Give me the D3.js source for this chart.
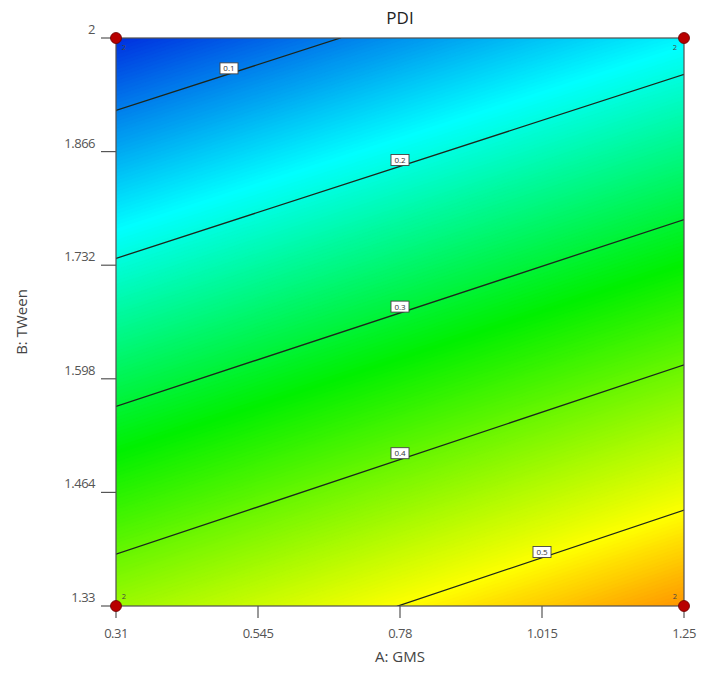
<!DOCTYPE html>
<html><head><meta charset="utf-8">
<script src="https://cdn.jsdelivr.net/npm/d3@7"></script>
<style>
body{margin:0;background:#fff}
svg{display:block}
text{font-family:"Open Sans","DejaVu Sans",sans-serif}
</style>
</head><body>
<svg id="chart" width="703" height="691"></svg>
<script>
// Design levels of the two factors
const gmsLevels = [0.31, 1.25];     // A: GMS (low, high)
const tweenLevels = [1.33, 2];      // B: TWeen (low, high)
// PDI at the four design corners (2FI surface)
const pdiAtTweenLow = [0.435, 0.566];   // B = 1.33, A = 0.31 / 1.25
const pdiAtTweenHigh = [0.051, 0.175];  // B = 2,    A = 0.31 / 1.25
// Contour levels and where their labels sit (A value)
const contourLevels = [0.1, 0.2, 0.3, 0.4, 0.5];
const labelTexts = ["0.1", "0.2", "0.3", "0.4", "0.5"];
const labelGms = [0.497, 0.78, 0.78, 0.78, 1.015];
// Axis ticks
const xTicks = [0.31, 0.545, 0.78, 1.015, 1.25];
const xTickLabels = ["0.31", "0.545", "0.78", "1.015", "1.25"];
const yTicks = [1.33, 1.464, 1.598, 1.732, 1.866, 2];
const yTickLabels = ["1.33", "1.464", "1.598", "1.732", "1.866", "2"];
// Design points (corners) and their replicate counts
const designA = [0.31, 1.25, 0.31, 1.25];
const designB = [2, 2, 1.33, 1.33];
const replicates = ["2", "2", "2", "2"];
// Colour map stops
const colorStops = [0.05, 0.18, 0.33, 0.5, 0.575];
const colorRange = ["#0030e0", "#00ffff", "#00f000", "#ffff00", "#ff8400"];

const svg = d3.select("#chart");
const x = d3.scaleLinear().domain([0.31, 1.25]).range([116, 684]);
const y = d3.scaleLinear().domain([1.33, 2]).range([606, 38]);
const color = d3.scaleLinear().domain(colorStops).range(colorRange).clamp(true);

// grid: row 0 = top (B high), row 1 = bottom (B low)
const grid = [...pdiAtTweenHigh, ...pdiAtTweenLow];
const gx = d3.scaleLinear().domain([0.5, 1.5]).range([x(gmsLevels[0]), x(gmsLevels[1])]);
const gy = d3.scaleLinear().domain([0.5, 1.5]).range([y(tweenLevels[1]), y(tweenLevels[0])]);
const proj = d3.geoTransform({point(px, py) { this.stream.point(gx(px), gy(py)); }});
const path = d3.geoPath(proj);
const contours = d3.contours().size([2, 2]);

svg.append("defs").append("clipPath").attr("id", "plotclip")
  .append("rect").attr("x", 116).attr("y", 38).attr("width", 568).attr("height", 568);

const plot = svg.append("g").attr("clip-path", "url(#plotclip)");
const fillThresholds = d3.range(0.03, 0.6, 0.0025);
plot.append("rect").attr("x", 116).attr("y", 38).attr("width", 568).attr("height", 568)
  .attr("fill", color(0.03));
plot.append("g").selectAll("path")
  .data(contours.thresholds(fillThresholds)(grid))
  .join("path")
  .attr("d", path)
  .attr("fill", d => color(d.value))
  .attr("stroke", d => color(d.value))
  .attr("stroke-width", 0.3);

plot.append("g").selectAll("path")
  .data(contours.thresholds(contourLevels)(grid))
  .join("path")
  .attr("d", path)
  .attr("fill", "none")
  .attr("stroke", "#1c261c")
  .attr("stroke-width", 1.3);

// frame
svg.append("rect").attr("x", 116).attr("y", 38).attr("width", 568).attr("height", 568)
  .attr("fill", "none").attr("stroke", "#505050").attr("stroke-width", 1.2);

// contour labels
function levelTween(t, a) {
  const fa = (a - gmsLevels[0]) / (gmsLevels[1] - gmsLevels[0]);
  const lo = pdiAtTweenLow[0] + (pdiAtTweenLow[1] - pdiAtTweenLow[0]) * fa;
  const hi = pdiAtTweenHigh[0] + (pdiAtTweenHigh[1] - pdiAtTweenHigh[0]) * fa;
  return tweenLevels[0] + (t - lo) / (hi - lo) * (tweenLevels[1] - tweenLevels[0]);
}
const labs = svg.append("g").selectAll("g").data(contourLevels).join("g")
  .attr("transform", (d, i) => `translate(${x(labelGms[i])},${y(levelTween(d, labelGms[i])) - 5.5})`);
labs.append("rect").attr("x", -9).attr("y", -5.5).attr("width", 18).attr("height", 11)
  .attr("fill", "#fff").attr("stroke", "#444").attr("stroke-width", 0.9);
labs.append("text").attr("text-anchor", "middle").attr("y", 3)
  .attr("font-size", 8).attr("fill", "#333").text((d, i) => labelTexts[i]);

// ticks
svg.append("g").selectAll("line").data(xTicks).join("line")
  .attr("x1", d => x(d)).attr("x2", d => x(d)).attr("y1", 606).attr("y2", 618)
  .attr("stroke", "#555").attr("stroke-width", 1.2);
svg.append("g").selectAll("text").data(xTicks).join("text")
  .attr("x", d => x(d)).attr("y", 638).attr("text-anchor", "middle")
  .attr("font-size", 13).attr("letter-spacing", -0.5).attr("fill", "#555")
  .text((d, i) => xTickLabels[i]);
svg.append("g").selectAll("line").data(yTicks).join("line")
  .attr("x1", 101).attr("x2", 116).attr("y1", d => y(d)).attr("y2", d => y(d))
  .attr("stroke", "#555").attr("stroke-width", 1.2);
svg.append("g").selectAll("text").data(yTicks).join("text")
  .attr("x", 95).attr("y", d => y(d) - 4).attr("text-anchor", "end")
  .attr("font-size", 13).attr("letter-spacing", -0.5).attr("fill", "#555")
  .text((d, i) => yTickLabels[i]);

// design points
svg.append("g").selectAll("circle").data(designA).join("circle")
  .attr("cx", d => x(d)).attr("cy", (d, i) => y(designB[i])).attr("r", 5.5)
  .attr("fill", "#b80000").attr("stroke", "#6a0000").attr("stroke-width", 0.8);
svg.append("g").selectAll("text").data(designA).join("text")
  .attr("x", d => x(d) + (d === gmsLevels[0] ? 8 : -9))
  .attr("y", (d, i) => y(designB[i]) + (designB[i] === tweenLevels[1] ? 12 : -7))
  .attr("font-size", 7.5).attr("fill", "#444").attr("text-anchor", "middle")
  .text((d, i) => replicates[i]);

// titles
svg.append("text").attr("x", 400).attr("y", 24).attr("text-anchor", "middle")
  .attr("font-size", 17).attr("fill", "#222").text("PDI");
svg.append("text").attr("x", 400).attr("y", 662).attr("text-anchor", "middle")
  .attr("font-size", 15).attr("fill", "#444").text("A: GMS");
svg.append("text").attr("transform", "translate(27,322) rotate(-90)").attr("text-anchor", "middle")
  .attr("font-size", 15).attr("fill", "#444").text("B: TWeen");
</script>
</body></html>
